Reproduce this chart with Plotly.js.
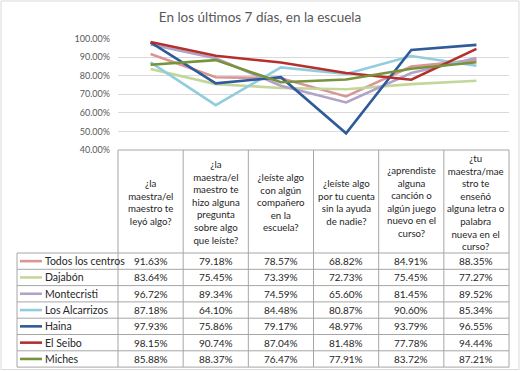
<!DOCTYPE html>
<html><head><meta charset="utf-8">
<script src="https://cdn.plot.ly/plotly-3.0.1.min.js"></script>
<style>html,body{margin:0;padding:0;background:#fff}#chart{width:520px;height:371px}</style>
</head><body><div id="chart"></div>
<script>
var categories = [
  "¿la<br>maestra/el<br>maestro te<br>leyó algo?",
  "¿la<br>maestra/el<br>maestro te<br>hizo alguna<br>pregunta<br>sobre algo<br>que leíste?",
  "¿leíste algo<br>con algún<br>compañero<br>en la<br>escuela?",
  "¿leíste algo<br>por tu cuenta<br>sin la ayuda<br>de nadie?",
  "¿aprendiste<br>alguna<br>canción o<br>algún juego<br>nuevo en el<br>curso?",
  "¿tu<br>maestra/mae<br>stro te<br>enseñó<br>alguna letra o<br>palabra<br>nueva en el<br>curso?"
];
var seriesNames = ["Todos los centros","Dajabón","Montecristi","Los Alcarrizos","Haina","El Seibo","Miches"];
var todos      = [91.63, 79.18, 78.57, 68.82, 84.91, 88.35];
var dajabon    = [83.64, 75.45, 73.39, 72.73, 75.45, 77.27];
var montecristi= [96.72, 89.34, 74.59, 65.60, 81.45, 89.52];
var alcarrizos = [87.18, 64.10, 84.48, 80.87, 90.60, 85.34];
var haina      = [97.93, 75.86, 79.17, 48.97, 93.79, 96.55];
var elseibo    = [98.15, 90.74, 87.04, 81.48, 77.78, 94.44];
var miches     = [85.88, 88.37, 76.47, 77.91, 83.72, 87.21];
var seriesValues = [todos, dajabon, montecristi, alcarrizos, haina, elseibo, miches];
var colors = ["#d99694","#c3d69b","#b3a2c7","#93cddd","#2f5b9a","#b3302d","#77933c"];

var W = 520, H = 371;
function px(x){ return x / W; }
function py(y){ return 1 - y / H; }

var colL = 118, colR = 509, nC = categories.length, colW = (colR - colL) / nC;
var tabTop = 150, headBot = 253, rowH = 16.3, legL = 17;
var tabBot = headBot + rowH * seriesNames.length;
var gridC = "#a6a6a6";
var FONT = "Lato, 'Liberation Sans', sans-serif";

var traces = seriesValues.map(function(v, i){
  return {x: categories, y: v, type: "scatter", mode: "lines", name: seriesNames[i],
          line: {color: colors[i], width: 2.6}, hoverinfo: "skip"};
});

var shapes = [], annotations = [];
function hline(x0, x1, y){ shapes.push({type:"line", xref:"paper", yref:"paper", x0:px(x0), x1:px(x1), y0:py(y), y1:py(y), line:{color:gridC, width:1}}); }
function vline(x, y0, y1){ shapes.push({type:"line", xref:"paper", yref:"paper", x0:px(x), x1:px(x), y0:py(y0), y1:py(y1), line:{color:gridC, width:1}}); }

// outer chart border
shapes.push({type:"rect", xref:"paper", yref:"paper", x0:px(1), x1:px(519), y0:py(1), y1:py(369.5), line:{color:"#d9d9d9", width:1}});
// header grid
hline(colL, colR, tabTop);
for (var c = 0; c <= nC; c++) vline(colL + c * colW, tabTop, tabBot);
vline(legL, headBot, tabBot);
for (var r = 0; r <= seriesNames.length; r++) hline(legL, colR, headBot + r * rowH);

// header text
categories.forEach(function(cat, c){
  annotations.push({xref:"paper", yref:"paper", x:px(colL + (c + 0.5) * colW), y:py((tabTop + headBot) / 2),
    text: cat, showarrow:false, xanchor:"center", yanchor:"middle", align:"center",
    font:{family:FONT, size:9.7, color:"#262626"}});
});
// rows
seriesNames.forEach(function(name, r){
  var yc = headBot + (r + 0.5) * rowH;
  shapes.push({type:"line", xref:"paper", yref:"paper", x0:px(20), x1:px(42), y0:py(yc), y1:py(yc), line:{color:colors[r], width:2.6}});
  annotations.push({xref:"paper", yref:"paper", x:px(42.5), y:py(yc), text:name, showarrow:false, xanchor:"left", yanchor:"middle",
    font:{family:FONT, size:10.5, color:"#262626"}});
  seriesValues[r].forEach(function(v, c){
    annotations.push({xref:"paper", yref:"paper", x:px(colL + (c + 0.5) * colW), y:py(yc), text:v.toFixed(2) + "%", showarrow:false,
      xanchor:"center", yanchor:"middle", font:{family:FONT, size:10, color:"#262626"}});
  });
});

var layout = {
  width: W, height: H, margin: {l:0, r:0, t:0, b:0},
  paper_bgcolor: "#fff", plot_bgcolor: "#fff", showlegend: false,
  title: {text: "En los últimos 7 días, en la escuela", x: 0.5, xanchor: "center", y: py(17), yanchor: "middle",
          font: {family: FONT, size: 13.5, color: "#595959"}},
  xaxis: {domain: [px(colL), px(colR)], type: "category", range: [-0.5, 5.5], showticklabels: false,
          showgrid: false, zeroline: false, showline: false, ticks: "", fixedrange: true},
  yaxis: {domain: [py(tabTop), py(38.5)], range: [40, 100], dtick: 10, tickformat: ".2f", ticksuffix: "%",
          showgrid: true, gridcolor: "#d9d9d9", gridwidth: 1, zeroline: false, showline: false, ticks: "",
          ticklabelstandoff: 7, tickfont: {family: FONT, size: 9, color: "#595959"}, fixedrange: true},
  shapes: shapes, annotations: annotations
};
Plotly.newPlot("chart", traces, layout, {displayModeBar: false, staticPlot: true});
</script></body></html>
